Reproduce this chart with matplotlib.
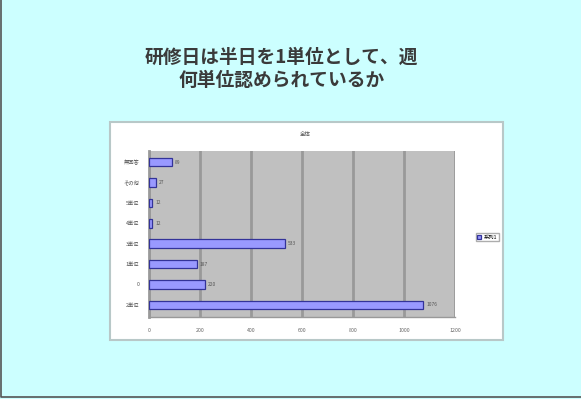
import matplotlib.pyplot as plt
from matplotlib.lines import Line2D
from matplotlib.patches import Rectangle

plt.rcParams['font.family'] = ['Noto Sans CJK JP', 'DejaVu Sans']

# categories listed bottom to top, as the bar chart stacks them
categories = ["2単位", "0", "1単位", "3単位", "4単位", "5単位", "その他", "無回答"]
counts = [1076, 220, 187, 533, 12, 12, 27, 89]
x_ticks = [0, 200, 400, 600, 800, 1000, 1200]
series_name = "系列1"
title_lines = "研修日は半日を1単位として、週\n何単位認められているか"
chart_title = "全体"

fig = plt.figure(figsize=(5.81, 3.99), dpi=100)
fig.patch.set_facecolor("#ccffff")

# slide frame on the left and bottom edges
fig.add_artist(Line2D([0.002, 0.002, 1.0], [1.0, 0.005, 0.005],
                      transform=fig.transFigure, color="#555555", linewidth=1.2))

fig.text(0.484, 0.828, title_lines, ha="center", va="center", fontsize=13.5,
         color="#3a3a3a", linespacing=1.3, fontweight="bold")

# white chart area with a thin grey frame, kept behind the axes
fig.add_artist(Rectangle((110 / 581, 1 - 340 / 399), 393 / 581, 218 / 399,
                         transform=fig.transFigure, facecolor="white",
                         edgecolor="#b8c8c8", linewidth=1.5, zorder=-5))
fig.text(305 / 581, 1 - 134 / 399, chart_title, ha="center", va="center",
         fontsize=4, color="#555555")

ax = fig.add_axes([149 / 581, 1 - 317 / 399, 306 / 581, 166 / 399])
ax.set_zorder(2)
ax.set_facecolor("#c0c0c0")
ypos = list(range(len(categories)))
bars = ax.barh(ypos, counts, height=0.42, color="#9999ff", edgecolor="#333399",
               linewidth=0.9, zorder=3, label=series_name)
for y, v in zip(ypos, counts):
    ax.text(v + 12, y, str(v), va="center", ha="left", fontsize=3.5,
            color="#555555", zorder=4)

ax.set_xlim(0, 1200)
ax.set_ylim(-0.6, len(categories) - 0.45)
ax.set_xticks(x_ticks)
ax.set_xticklabels([str(t) for t in x_ticks], fontsize=3.8, color="#666666")
ax.set_yticks(ypos)
ax.set_yticklabels(categories, fontsize=3.8, color="#555555")
ax.tick_params(length=0, pad=7)
ax.tick_params(axis="x", pad=8)
ax.grid(axis="x", color="#999999", linewidth=2, zorder=1)
for s in ["top", "right"]:
    ax.spines[s].set_visible(False)
ax.spines["left"].set_color("#999999")
ax.spines["bottom"].set_color("#999999")
ax.spines["left"].set_linewidth(2)
ax.spines["bottom"].set_linewidth(1)

fig.legend(handles=[bars], labels=[series_name], loc="center",
           bbox_to_anchor=(487 / 581, 1 - 237 / 399), fontsize=3.8,
           frameon=True, edgecolor="#999999", fancybox=False,
           handlelength=0.8, handleheight=0.8, borderpad=0.3,
           handletextpad=0.4)

fig.savefig("out.png", dpi=100, facecolor=fig.get_facecolor())
